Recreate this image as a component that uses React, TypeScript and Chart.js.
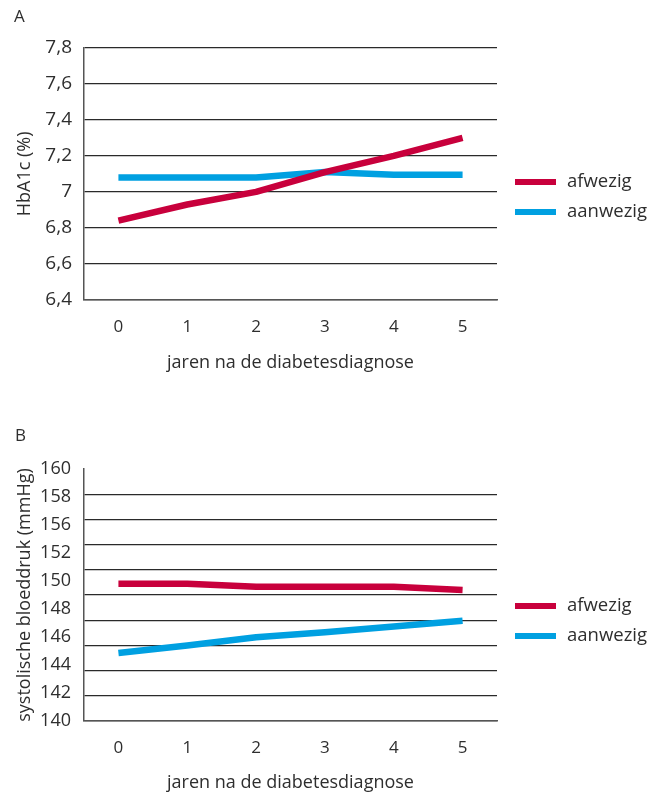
import React, { useEffect, useRef } from 'react';
import { Chart, registerables } from 'chart.js';

Chart.register(...registerables);

// ---------- data ----------
const years = ['0', '1', '2', '3', '4', '5'];
const seriesNames = ['afwezig', 'aanwezig'];
const hba1cAfwezig = [6.84, 6.93, 7.0, 7.11, 7.2, 7.3];
const hba1cAanwezig = [7.08, 7.08, 7.08, 7.11, 7.095, 7.095];
const bpAfwezig = [150.9, 150.9, 150.65, 150.65, 150.65, 150.4];
const bpAanwezig = [145.4, 146.0, 146.65, 147.05, 147.5, 147.95];
const bpTickLabels = ['160', '158', '156', '152', '150', '148', '146', '144', '142', '140'];

const RED = '#c8003c';
const BLUE = '#00a0e1';
const TEXT = '#2e2e2e';
const GRID = '#2a2a2a';
const AXIS = '#555555';
const FAMILY = '"Open Sans", "Noto Sans", sans-serif';

const sideLegend = {
  id: 'sideLegend',
  afterDraw(chart: any, _args: any, opts: any) {
    const { ctx } = chart;
    ctx.save();
    chart.data.datasets.forEach((ds: any, i: number) => {
      const y = opts.y + i * opts.gap;
      ctx.fillStyle = ds.borderColor;
      ctx.fillRect(opts.x, y - opts.boxHeight / 2, opts.boxWidth, opts.boxHeight);
      ctx.fillStyle = TEXT;
      ctx.font = `${opts.size}px ${FAMILY}`;
      ctx.textBaseline = 'middle';
      ctx.textAlign = 'left';
      ctx.fillText(ds.label, opts.x + opts.boxWidth + opts.textGap, y);
    });
    ctx.restore();
  },
};

function makeDatasets(a: number[], b: number[]) {
  return [
    { label: seriesNames[0], data: a, xAxisID: 'x', yAxisID: 'y', borderColor: RED, backgroundColor: RED, borderWidth: 6.5, pointRadius: 0, tension: 0, borderCapStyle: 'butt', borderJoinStyle: 'round' },
    { label: seriesNames[1], data: b, xAxisID: 'x', yAxisID: 'y', borderColor: BLUE, backgroundColor: BLUE, borderWidth: 6.5, pointRadius: 0, tension: 0, borderCapStyle: 'butt', borderJoinStyle: 'round' },
  ];
}

function xScale(height: number, titleBottom: number) {
  return {
    type: 'category',
    offset: true,
    grid: { display: false, drawTicks: false },
    border: { display: true, color: AXIS, width: 1.5 },
    ticks: { font: { family: FAMILY, size: 17 }, color: TEXT, padding: 17 },
    title: { display: true, text: 'jaren na de diabetesdiagnose', color: TEXT, font: { family: FAMILY, size: 18 }, padding: { top: 0, bottom: titleBottom } },
    afterFit: (s: any) => { s.height = height; },
  };
}

function App() {
  const refA = useRef<HTMLCanvasElement>(null);
  const refB = useRef<HTMLCanvasElement>(null);

  useEffect(() => {
    const chartA = new Chart(refA.current as HTMLCanvasElement, {
      type: 'line',
      data: { labels: years, datasets: makeDatasets(hba1cAfwezig, hba1cAanwezig) as any },
      options: {
        responsive: false,
        animation: false,
        layout: { padding: { top: 47.7, right: 157, bottom: 0, left: 0 } },
        plugins: {
          legend: { display: false },
          tooltip: { enabled: false },
          sideLegend: { x: 515, y: 182, gap: 30, boxWidth: 41, boxHeight: 6, textGap: 11, size: 18.5 },
        } as any,
        scales: {
          x: xScale(100, 26.2) as any,
          y: {
            min: 6.4,
            max: 7.8,
            ticks: {
              stepSize: 0.2,
              padding: 12,
              color: TEXT,
              font: { family: FAMILY, size: 19 },
              callback: (v: any) => {
                const r = Math.round(Number(v) * 10) / 10;
                return Number.isInteger(r) ? String(r) : r.toFixed(1).replace('.', ',');
              },
            },
            grid: { color: GRID, lineWidth: 1.2, drawTicks: false },
            border: { display: true, color: AXIS, width: 1.5 },
            title: { display: true, text: 'HbA1c (%)', color: TEXT, font: { family: FAMILY, size: 18 }, padding: { top: 14, bottom: 0 } },
            afterFit: (s: any) => { s.width = 84; },
          } as any,
        },
      },
      plugins: [sideLegend as any],
    });

    const chartB = new Chart(refB.current as HTMLCanvasElement, {
      type: 'line',
      data: { labels: years, datasets: makeDatasets(bpAfwezig, bpAanwezig) as any },
      options: {
        responsive: false,
        animation: false,
        layout: { padding: { top: 69, right: 157, bottom: 0, left: 0 } },
        plugins: {
          legend: { display: false },
          tooltip: { enabled: false },
          sideLegend: { x: 515, y: 206, gap: 30, boxWidth: 41, boxHeight: 6, textGap: 11, size: 18.5 },
        } as any,
        scales: {
          x: xScale(73, 0) as any,
          yl: {
            type: 'category',
            position: 'left',
            weight: 1,
            offset: false,
            labels: bpTickLabels,
            grid: { display: false, drawTicks: false },
            border: { display: false },
            ticks: { padding: 13, color: TEXT, font: { family: FAMILY, size: 18 }, autoSkip: false },
            title: { display: true, text: 'systolische bloeddruk (mmHg)', color: TEXT, font: { family: FAMILY, size: 18 }, padding: { top: 14, bottom: 0 } },
            afterFit: (s: any) => { s.width = 84; },
          } as any,
          y: {
            type: 'linear',
            position: 'left',
            weight: 0,
            min: 140,
            max: 160,
            ticks: { display: false, stepSize: 2 },
            grid: {
              color: (c: any) => (c.tick && c.tick.value === 160 ? 'rgba(0,0,0,0)' : GRID),
              lineWidth: 1.2,
              drawTicks: false,
            },
            border: { display: true, color: AXIS, width: 1.5 },
            afterFit: (s: any) => { s.width = 0; },
          } as any,
        },
      },
      plugins: [sideLegend as any],
    });

    return () => {
      chartA.destroy();
      chartB.destroy();
    };
  }, []);

  const letter: React.CSSProperties = {
    position: 'absolute',
    fontFamily: FAMILY,
    fontSize: 17,
    lineHeight: '17px',
    color: TEXT,
  };

  return (
    <div style={{ position: 'fixed', left: 0, top: 0, width: 654, height: 794, background: '#fff', overflow: 'hidden' }}>
      <canvas ref={refA} width={654} height={400} style={{ position: 'absolute', left: 0, top: 0, display: 'block' }} />
      <canvas ref={refB} width={654} height={394} style={{ position: 'absolute', left: 0, top: 400, display: 'block' }} />
      <div style={{ ...letter, left: 14, top: 7 }}>A</div>
      <div style={{ ...letter, left: 15, top: 426 }}>B</div>
    </div>
  );
}

export default App;
